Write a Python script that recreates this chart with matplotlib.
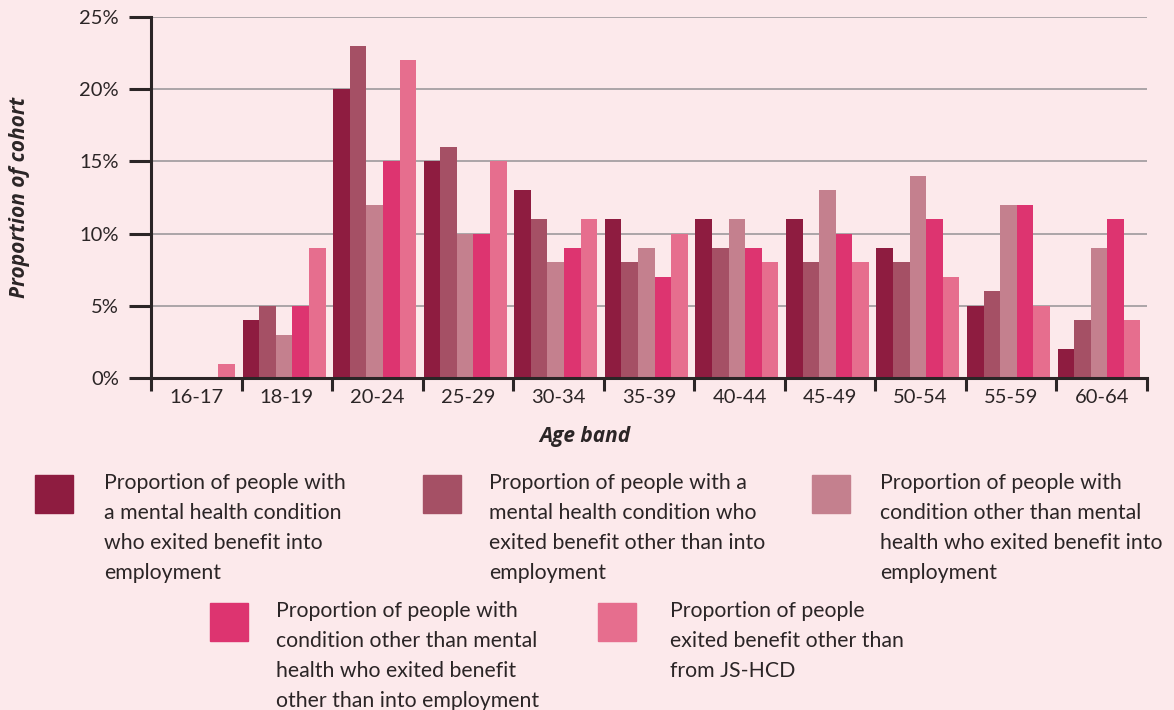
import matplotlib.pyplot as plt
import numpy as np
from matplotlib.patches import Rectangle
from matplotlib.ticker import FixedLocator

BG = '#fce9eb'
INK = '#2b2526'

age_bands = ['16-17', '18-19', '20-24', '25-29', '30-34', '35-39',
             '40-44', '45-49', '50-54', '55-59', '60-64']

# proportion of cohort (%) per series
mh_employment = [0, 4, 20, 15, 13, 11, 11, 11, 9, 5, 2]
mh_other = [0, 5, 23, 16, 11, 8, 9, 8, 8, 6, 4]
non_mh_employment = [0, 3, 12, 10, 8, 9, 11, 13, 14, 12, 9]
non_mh_other = [0, 5, 15, 10, 9, 7, 9, 10, 11, 12, 11]
non_jshcd_other = [1, 9, 22, 15, 11, 10, 8, 8, 7, 5, 4]

series_labels = [
    'Proportion of people with\na mental health condition\nwho exited benefit into\nemployment',
    'Proportion of people with a\nmental health condition who\nexited benefit other than into\nemployment',
    'Proportion of people with\ncondition other than mental\nhealth who exited benefit into\nemployment',
    'Proportion of people with\ncondition other than mental\nhealth who exited benefit\nother than into employment',
    'Proportion of people\nexited benefit other than\nfrom JS-HCD',
]
colors = ['#8e1c40', '#a55065', '#c4808e', '#dd3470', '#e66e8e']

series = [mh_employment, mh_other, non_mh_employment, non_mh_other, non_jshcd_other]

plt.rcParams['font.family'] = ['Lato', 'DejaVu Sans']

fig = plt.figure(figsize=(11.74, 7.10), dpi=100, facecolor=BG)
ax = fig.add_axes([151 / 1174, 1 - 378 / 710, 996 / 1174, 361 / 710])
ax.set_facecolor(BG)

x = np.arange(len(age_bands))
w = 0.183
for k, (vals, col) in enumerate(zip(series, colors)):
    ax.bar(x - 0.03 + (k - 2) * w, vals, width=w, color=col, zorder=3, linewidth=0)

ax.set_xlim(-0.5, len(age_bands) - 0.5)
ax.set_ylim(0, 25)
ax.set_yticks([0, 5, 10, 15, 20, 25])
ax.set_yticklabels([f'{v}%' for v in [0, 5, 10, 15, 20, 25]])
ax.set_xticks(x)
ax.set_xticklabels(age_bands)
ax.xaxis.set_minor_locator(FixedLocator(np.arange(-0.5, len(age_bands), 1)))

ax.tick_params(axis='x', which='major', length=0, pad=8, labelsize=14.5, labelcolor=INK)
ax.tick_params(axis='x', which='minor', length=9, width=2.2, color=INK, direction='out')
ax.tick_params(axis='y', length=16, width=2.2, color=INK, pad=7, labelsize=14.5, labelcolor=INK)

ax.grid(axis='y', color='#aba5a8', linewidth=1.4, zorder=0)
for s in ['top', 'right']:
    ax.spines[s].set_visible(False)
for s in ['left', 'bottom']:
    ax.spines[s].set_color(INK)
    ax.spines[s].set_linewidth(2.2)
    ax.spines[s].set_zorder(4)

# axis titles placed by hand (the x title sits left of the axes centre)
fig.text(20 / 1174, 1 - 197 / 710, 'Proportion of cohort', rotation=90, ha='center', va='center',
         fontsize=15, fontweight='bold', style='italic', color=INK,
         family=['Open Sans', 'DejaVu Sans'])
fig.text(585 / 1174, 1 - 437 / 710, 'Age band', ha='center', va='center',
         fontsize=15, fontweight='bold', style='italic', color=INK,
         family=['Open Sans', 'DejaVu Sans'])

# legend built by hand: 3 entries on the first row, 2 on the second
patch_pos = [(35, 475), (423, 475), (812, 475), (210, 603), (598, 603)]
text_pos = [(104, 473), (489, 473), (880, 473), (276, 601), (670, 601)]
for (px, py), (tx, ty), col, lab in zip(patch_pos, text_pos, colors, series_labels):
    fig.patches.append(Rectangle((px / 1174, 1 - (py + 38) / 710), 38 / 1174, 38 / 710,
                                 transform=fig.transFigure, color=col))
    fig.text(tx / 1174, 1 - ty / 710, lab, ha='left', va='top', fontsize=15.3,
             color=INK, linespacing=1.62)

plt.savefig('out.png', dpi=100, facecolor=BG)
plt.close()
